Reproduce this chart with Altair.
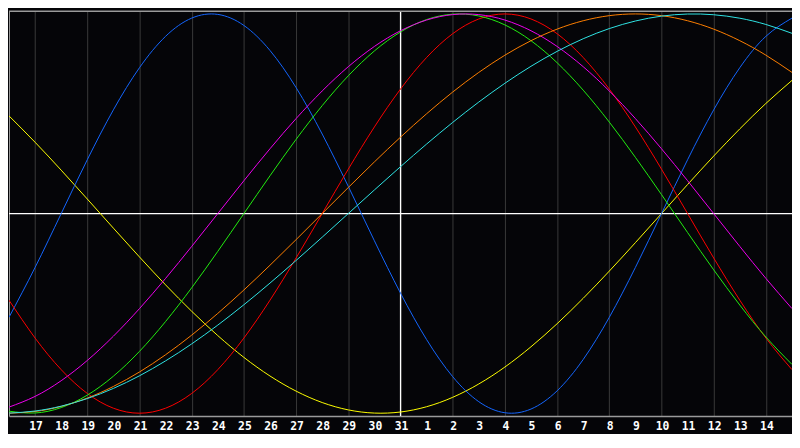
import altair as alt
import pandas as pd

# x index 0..30 -> calendar day
day_labels = ["16", "17", "18", "19", "20", "21", "22", "23", "24", "25", "26", "27", "28", "29", "30", "31",
              "1", "2", "3", "4", "5", "6", "7", "8", "9", "10", "11", "12", "13", "14", "15"]
label_idx = list(range(1, 30))

blue = [-0.5196, -0.2698, 0.0, 0.2698, 0.5196, 0.7308, 0.8879, 0.9791, 0.9977, 0.9423, 0.8170,
        0.6311, 0.3984, 0.1362, -0.1362, -0.3984, -0.6311, -0.8170, -0.9423, -0.9977, -0.9791,
        -0.8879, -0.7308, -0.5196, -0.2698, 0.0, 0.2698, 0.5196, 0.7308, 0.8879, 0.9791]
red = [-0.4339, -0.6235, -0.7818, -0.9010, -0.9749, -1.0, -0.9749, -0.9010, -0.7818, -0.6235, -0.4339,
       -0.2225, 0.0, 0.2225, 0.4339, 0.6235, 0.7818, 0.9010, 0.9749, 1.0, 0.9749,
       0.9010, 0.7818, 0.6235, 0.4339, 0.2225, 0.0, -0.2225, -0.4339, -0.6235, -0.7818]
green = [-0.9898, -0.9989, -0.9718, -0.9096, -0.8146, -0.6901, -0.5406, -0.3717, -0.1893, 0.0, 0.1893,
         0.3717, 0.5406, 0.6901, 0.8146, 0.9096, 0.9718, 0.9989, 0.9898, 0.9450, 0.8660,
         0.7557, 0.6182, 0.4582, 0.2817, 0.0951, -0.0951, -0.2817, -0.4582, -0.6182, -0.7557]
magenta = [-0.9694, -0.9158, -0.8372, -0.7357, -0.6142, -0.4759, -0.3247, -0.1646, 0.0, 0.1646, 0.3247,
           0.4759, 0.6142, 0.7357, 0.8372, 0.9158, 0.9694, 0.9966, 0.9966, 0.9694, 0.9158,
           0.8372, 0.7357, 0.6142, 0.4759, 0.3247, 0.1646, 0.0, -0.1646, -0.3247, -0.4759]
orange = [-1.0, -0.9914, -0.9659, -0.9239, -0.8660, -0.7934, -0.7071, -0.6088, -0.5, -0.3827, -0.2588,
          -0.1305, 0.0, 0.1305, 0.2588, 0.3827, 0.5, 0.6088, 0.7071, 0.7934, 0.8660,
          0.9239, 0.9659, 0.9914, 1.0, 0.9914, 0.9659, 0.9239, 0.8660, 0.7934, 0.7071]
cyan = [-0.9996, -0.9890, -0.9646, -0.9267, -0.8758, -0.8125, -0.7378, -0.6527, -0.5586, -0.4566, -0.3482,
        -0.2349, -0.1183, 0.0, 0.1183, 0.2349, 0.3482, 0.4566, 0.5586, 0.6527, 0.7378,
        0.8125, 0.8758, 0.9267, 0.9646, 0.9890, 0.9996, 0.9960, 0.9786, 0.9473, 0.9028]
yellow = [0.4894, 0.3572, 0.2174, 0.0730, -0.0730, -0.2174, -0.3572, -0.4894, -0.6112, -0.7204, -0.8136,
          -0.8894, -0.9465, -0.9834, -0.9993, -0.9940, -0.9675, -0.9204, -0.8535, -0.7686, -0.6672,
          -0.5517, -0.4244, -0.2881, -0.1456, 0.0, 0.1456, 0.2881, 0.4244, 0.5517, 0.6672]

series_names = ["yellow", "blue", "red", "green", "magenta", "orange", "cyan"]
series_vals = [yellow, blue, red, green, magenta, orange, cyan]
series_colors = ["#ffff00", "#1466ff", "#ff0000", "#22ee10", "#f000f0", "#ff8000", "#30e6e6"]

rows = []
for name, vals in zip(series_names, series_vals):
    for i, v in enumerate(vals):
        rows.append({"i": i, "v": v, "s": name})
df = pd.DataFrame(rows)

Y_MAX = 1.014
xs = alt.Scale(domain=[0, 30], nice=False, zero=False)
ys = alt.Scale(domain=[-Y_MAX, Y_MAX], nice=False, zero=False)

lines = alt.Chart(df).mark_line(strokeWidth=1, interpolate="natural", clip=True).encode(
    x=alt.X("i:Q", scale=xs, axis=alt.Axis(
        values=label_idx, grid=True, gridColor="#3a3a3a", gridWidth=1,
        ticks=False, labels=False, domain=True, domainColor="#9a9a9a", domainWidth=1.5, title=None)),
    y=alt.Y("v:Q", scale=ys, axis=alt.Axis(
        grid=False, ticks=False, labels=False, domain=True, domainColor="#9a9a9a", title=None)),
    color=alt.Color("s:N", scale=alt.Scale(domain=series_names, range=series_colors), legend=None),
)

label_df = pd.DataFrame({"i": label_idx, "t": [day_labels[k] for k in label_idx], "v": [-Y_MAX] * len(label_idx)})
labels = alt.Chart(label_df).mark_text(
    color="#ffffff", font="DejaVu Sans Mono", fontWeight="bold", fontSize=11.5,
    baseline="middle", align="center", dy=11, dx=1,
).encode(x=alt.X("i:Q", scale=xs), y=alt.Y("v:Q", scale=ys), text="t:N")

center_x = [15]
center_v = [0.0]
top_v = [Y_MAX]

vrule = alt.Chart(pd.DataFrame({"i": center_x})).mark_rule(color="#ffffff", strokeWidth=1.2).encode(
    x=alt.X("i:Q", scale=xs))
hrule = alt.Chart(pd.DataFrame({"v": center_v})).mark_rule(color="#ffffff", strokeWidth=1.2).encode(
    y=alt.Y("v:Q", scale=ys))
toprule = alt.Chart(pd.DataFrame({"v": top_v})).mark_rule(color="#9a9a9a", strokeWidth=1.5).encode(
    y=alt.Y("v:Q", scale=ys))

chart = alt.layer(vrule, hrule, lines, toprule, labels).properties(
    width=791, height=409,
    padding={"left": 1, "top": 1, "right": 0, "bottom": 16},
    autosize="none",
).configure(background="#050508").configure_view(stroke=None)

chart.save("out.html", embed_options={"renderer": "svg", "actions": False})
